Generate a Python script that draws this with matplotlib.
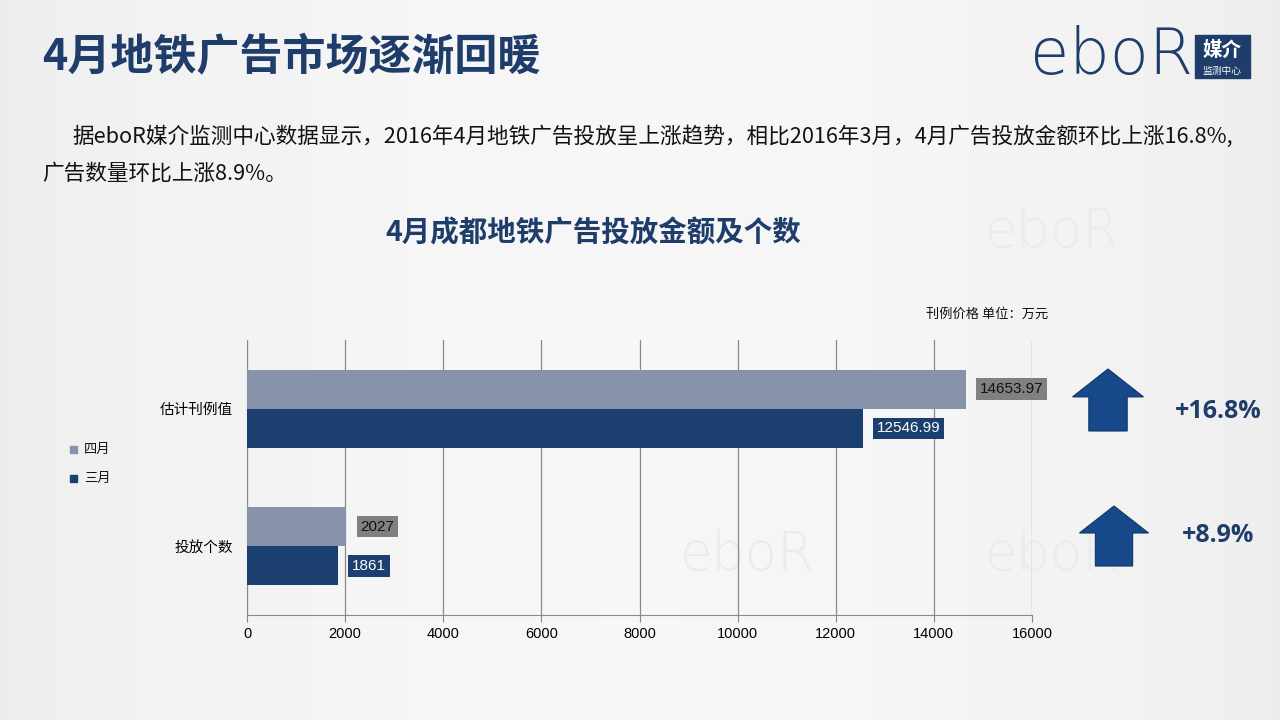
import numpy as np
import matplotlib.pyplot as plt
from matplotlib.patches import Polygon, Rectangle

plt.rcParams['font.family'] = ['Noto Sans CJK SC', 'DejaVu Sans']

# 数据
categories = ['投放个数', '估计刊例值']
april = [2027, 14653.97]
march = [1861, 12546.99]
april_lbl = ['2027', '14653.97']
march_lbl = ['1861', '12546.99']
growth = ['+8.9%', '+16.8%']
xticks = [0, 2000, 4000, 6000, 8000, 10000, 12000, 14000, 16000]

navy = '#1B3F6E'
grey_bar = '#8792AB'
title_col = '#1F3D6B'

fig = plt.figure(figsize=(12.8, 7.2), dpi=100)

# 背景渐变
bg = fig.add_axes([0, 0, 1, 1], zorder=-10)
xx = np.linspace(0, 1, 256)
grad = np.tile(0.925 + 0.04 * np.sin(np.pi * xx) ** 0.6, (64, 1))
bg.imshow(grad, cmap='gray', vmin=0, vmax=1, aspect='auto', extent=[0, 1, 0, 1])
bg.set_xlim(0, 1)
bg.set_ylim(0, 1)
bg.axis('off')

# 水印（很淡）
for (wx, wy) in [(985, 232), (985, 555), (680, 555)]:
    fig.text(wx / 1280, 1 - wy / 720, 'eboR', fontsize=38, color='#ebebeb',
             family='DejaVu Sans', fontweight='light', va='center', zorder=-5)

# 标题
fig.text(42 / 1280, 1 - 57 / 720, '4月地铁广告市场逐渐回暖', fontsize=31, fontweight='bold',
         color=title_col, va='center')
fig.text(72 / 1280, 1 - 137 / 720,
         '据eboR媒介监测中心数据显示，2016年4月地铁广告投放呈上涨趋势，相比2016年3月，4月广告投放金额环比上涨16.8%,',
         fontsize=15.6, color='#111111', va='center')
fig.text(42 / 1280, 1 - 174 / 720, '广告数量环比上涨8.9%。', fontsize=15.6, color='#111111', va='center')
fig.text(593 / 1280, 1 - 233 / 720, '4月成都地铁广告投放金额及个数', fontsize=20.5, fontweight='bold',
         color=title_col, ha='center', va='center')
fig.text(1048 / 1280, 1 - 314 / 720, '刊例价格 单位：万元', fontsize=9.5, color='#111111',
         ha='right', va='center')

# logo
fig.text(1030 / 1280, 1 - 56 / 720, 'eboR', fontsize=46, color=title_col, family='DejaVu Sans',
         fontweight='light', va='center')
fig.patches.append(Rectangle((1195 / 1280, 1 - 78 / 720), 55 / 1280, 43 / 720,
                             transform=fig.transFigure, color=title_col))
fig.text(1222 / 1280, 1 - 50 / 720, '媒介', fontsize=14, fontweight='bold', color='white',
         ha='center', va='center')
fig.text(1222 / 1280, 1 - 71 / 720, '监测中心', fontsize=7, color='white', ha='center', va='center')

# 主图
ax = fig.add_axes([247 / 1280, 105 / 720, 785 / 1280, 275 / 720])
ax.patch.set_alpha(0)
y = np.arange(len(categories))
h = 0.285
ax.barh(y + h / 2, april, height=h, color=grey_bar, zorder=3, label='四月')
ax.barh(y - h / 2, march, height=h, color=navy, zorder=3, label='三月')
ax.set_xlim(0, 16000)
ax.set_ylim(-0.5, 1.5)
ax.set_xticks(xticks)
ax.set_xticklabels([str(t) for t in xticks], family='Liberation Sans', fontsize=10.5)
ax.set_yticks(y)
ax.set_yticklabels(categories, fontsize=10.5)
ax.tick_params(axis='y', length=0, pad=10)
ax.tick_params(axis='x', length=5, color='#888888', pad=4)
ax.grid(axis='x', color='#8a8a8a', linewidth=0.9, zorder=0)
for s in ['top', 'right']:
    ax.spines[s].set_visible(False)
for s in ['left', 'bottom']:
    ax.spines[s].set_color('#8a8a8a')

for i in range(len(categories)):
    ax.annotate(april_lbl[i], (april[i], y[i] + h / 2), xytext=(10, 0), textcoords='offset points',
                va='center', ha='left', fontsize=11, family='Liberation Sans', color='#111111', zorder=5,
                bbox=dict(boxstyle='square,pad=0.25', fc='#808080', ec='none'))
    ax.annotate(march_lbl[i], (march[i], y[i] - h / 2), xytext=(10, 0), textcoords='offset points',
                va='center', ha='left', fontsize=11, family='Liberation Sans', color='white', zorder=5,
                bbox=dict(boxstyle='square,pad=0.25', fc=navy, ec='none'))

# 图例
for ly, lab, col in [(449, '四月', grey_bar), (478, '三月', navy)]:
    fig.patches.append(Rectangle((70 / 1280, 1 - (ly + 4) / 720), 7 / 1280, 7 / 720,
                                 transform=fig.transFigure, color=col))
    fig.text(84 / 1280, 1 - ly / 720, lab, fontsize=9.5, color='#111111', va='center')

# 上涨箭头
def arrow(cx, top, bot, w):
    hw = w / 2
    sw = w * 0.27
    mid = top + (bot - top) * 0.45
    pts = [(cx, top), (cx + hw, mid), (cx + sw, mid), (cx + sw, bot),
           (cx - sw, bot), (cx - sw, mid), (cx - hw, mid)]
    pts = [(px / 1280, 1 - py / 720) for px, py in pts]
    fig.patches.append(Polygon(pts, closed=True, transform=fig.transFigure,
                               fc='#17498A', ec='#0f3566', lw=0.8))

arrow(1108, 369, 431, 71)
arrow(1114, 506, 566, 69)
fig.text(1218 / 1280, 1 - 411 / 720, growth[1], fontsize=18, fontweight='bold', color=title_col,
         ha='center', va='center', family='Open Sans')
fig.text(1218 / 1280, 1 - 535 / 720, growth[0], fontsize=18, fontweight='bold', color=title_col,
         ha='center', va='center', family='Open Sans')

fig.savefig('out.png', dpi=100)
